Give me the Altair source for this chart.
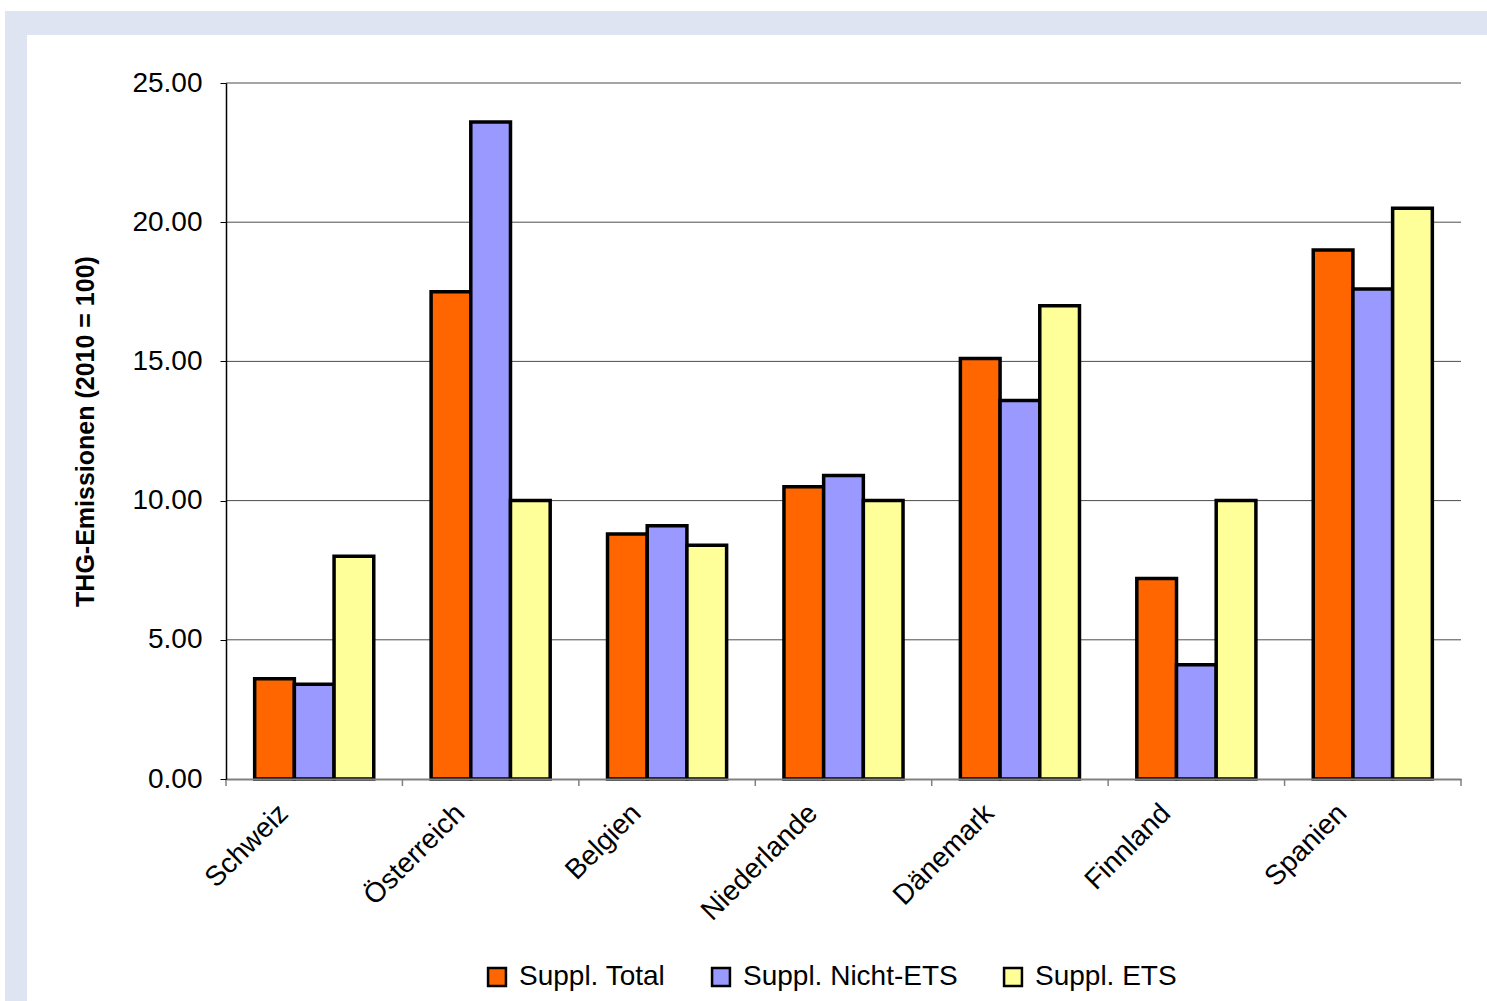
import altair as alt
import pandas as pd

# Category axis and series
countries = ["Schweiz", "Österreich", "Belgien", "Niederlande", "Dänemark", "Finnland", "Spanien"]
series = ["Suppl. Total", "Suppl. Nicht-ETS", "Suppl. ETS"]

# Values per series (index 2010 = 100)
total = [3.6, 17.5, 8.8, 10.5, 15.1, 7.2, 19.0]
nicht_ets = [3.4, 23.6, 9.1, 10.9, 13.6, 4.1, 17.6]
ets = [8.0, 10.0, 8.4, 10.0, 17.0, 10.0, 20.5]

colors = ["#FF6600", "#9999FF", "#FFFF99"]
y_ticks = [0, 5, 10, 15, 20, 25]

rows = []
for name, vals in zip(series, [total, nicht_ets, ets]):
    for c, v in zip(countries, vals):
        rows.append({"country": c, "series": name, "value": v})
df = pd.DataFrame(rows)

W, H = 1235, 696
FONT = "Liberation Sans"
step = W / len(countries)
pad_inner = 0.325
gap = step * pad_inner / 2

one = pd.DataFrame({"k": [0]})

# Frame behind the chart
frame_blue = alt.Chart(one).mark_rect(color="#DFE4F2").encode(
    x=alt.value(-221), x2=alt.value(W + 26), y=alt.value(-72), y2=alt.value(H + 222)
)
frame_white = alt.Chart(one).mark_rect(color="#FFFFFF").encode(
    x=alt.value(-199), x2=alt.value(W + 26), y=alt.value(-48), y2=alt.value(H + 222)
)

y_scale = alt.Scale(domain=[0, 25], nice=False)

# Horizontal gridlines (drawn behind the bars)
grid_df = pd.DataFrame({"v": y_ticks[1:]})
grid = alt.Chart(grid_df).mark_rule(color="#4d4d4d", strokeWidth=1).encode(
    y=alt.Y("v:Q", scale=y_scale),
    x=alt.value(0),
    x2=alt.value(W),
)

x_enc = alt.X(
    "country:N",
    sort=countries,
    title=None,
    scale=alt.Scale(paddingInner=pad_inner, paddingOuter=pad_inner / 2),
    axis=alt.Axis(
        labelAngle=-45,
        labelFont=FONT,
        labelFontSize=28,
        labelColor="black",
        labelPadding=20,
        labelOffset=-40,
        ticks=False,
        domainColor="#808080",
        domainWidth=2,
        grid=False,
        zindex=1,
    ),
)

bars = alt.Chart(df).mark_bar(stroke="black", strokeWidth=3.5).encode(
    x=x_enc,
    xOffset=alt.XOffset("series:N", sort=series, scale=alt.Scale(paddingInner=0, paddingOuter=0)),
    y=alt.Y(
        "value:Q",
        scale=y_scale,
        title="THG-Emissionen (2010 = 100)",
        axis=alt.Axis(
            values=y_ticks,
            format=".2f",
            labelFont=FONT,
            labelFontSize=28,
            labelColor="black",
            labelPadding=18,
            tickSize=6,
            tickColor="black",
            domainColor="black",
            domainWidth=1.5,
            grid=False,
            titleFont=FONT,
            titleFontSize=25,
            titleFontWeight="bold",
            titleColor="black",
            titlePadding=33,
            zindex=1,
        ),
    ),
    color=alt.Color(
        "series:N",
        sort=series,
        scale=alt.Scale(domain=series, range=colors),
        legend=alt.Legend(
            title=None,
            orient="none",
            direction="horizontal",
            legendX=257,
            legendY=880,
            symbolType="square",
            symbolSize=320,
            symbolStrokeColor="black",
            symbolStrokeWidth=2.5,
            symbolOpacity=1,
            labelFont=FONT,
            labelFontSize=28,
            labelColor="black",
            labelLimit=0,
            labelOffset=8,
            columnPadding=41,
        ),
    ),
)

# Category boundary ticks on the x axis
cat_df = pd.DataFrame({"country": countries})
ticks = alt.Chart(cat_df).mark_rule(color="#808080", strokeWidth=1.5, xOffset=-gap).encode(
    x=alt.X("country:N", sort=countries, bandPosition=0),
    y=alt.value(H),
    y2=alt.value(H + 7),
)
end_tick = alt.Chart(one).mark_rule(color="#808080", strokeWidth=1.5).encode(
    x=alt.value(W), y=alt.value(H), y2=alt.value(H + 7)
)

chart = alt.layer(frame_blue, frame_white, grid, bars, ticks, end_tick).properties(
    width=W,
    height=H,
    autosize="none",
    padding={"left": 226, "top": 83, "right": 26, "bottom": 222},
    background="white",
).configure_view(stroke=None)

chart.save("out.html", embed_options={"renderer": "svg", "actions": False})
